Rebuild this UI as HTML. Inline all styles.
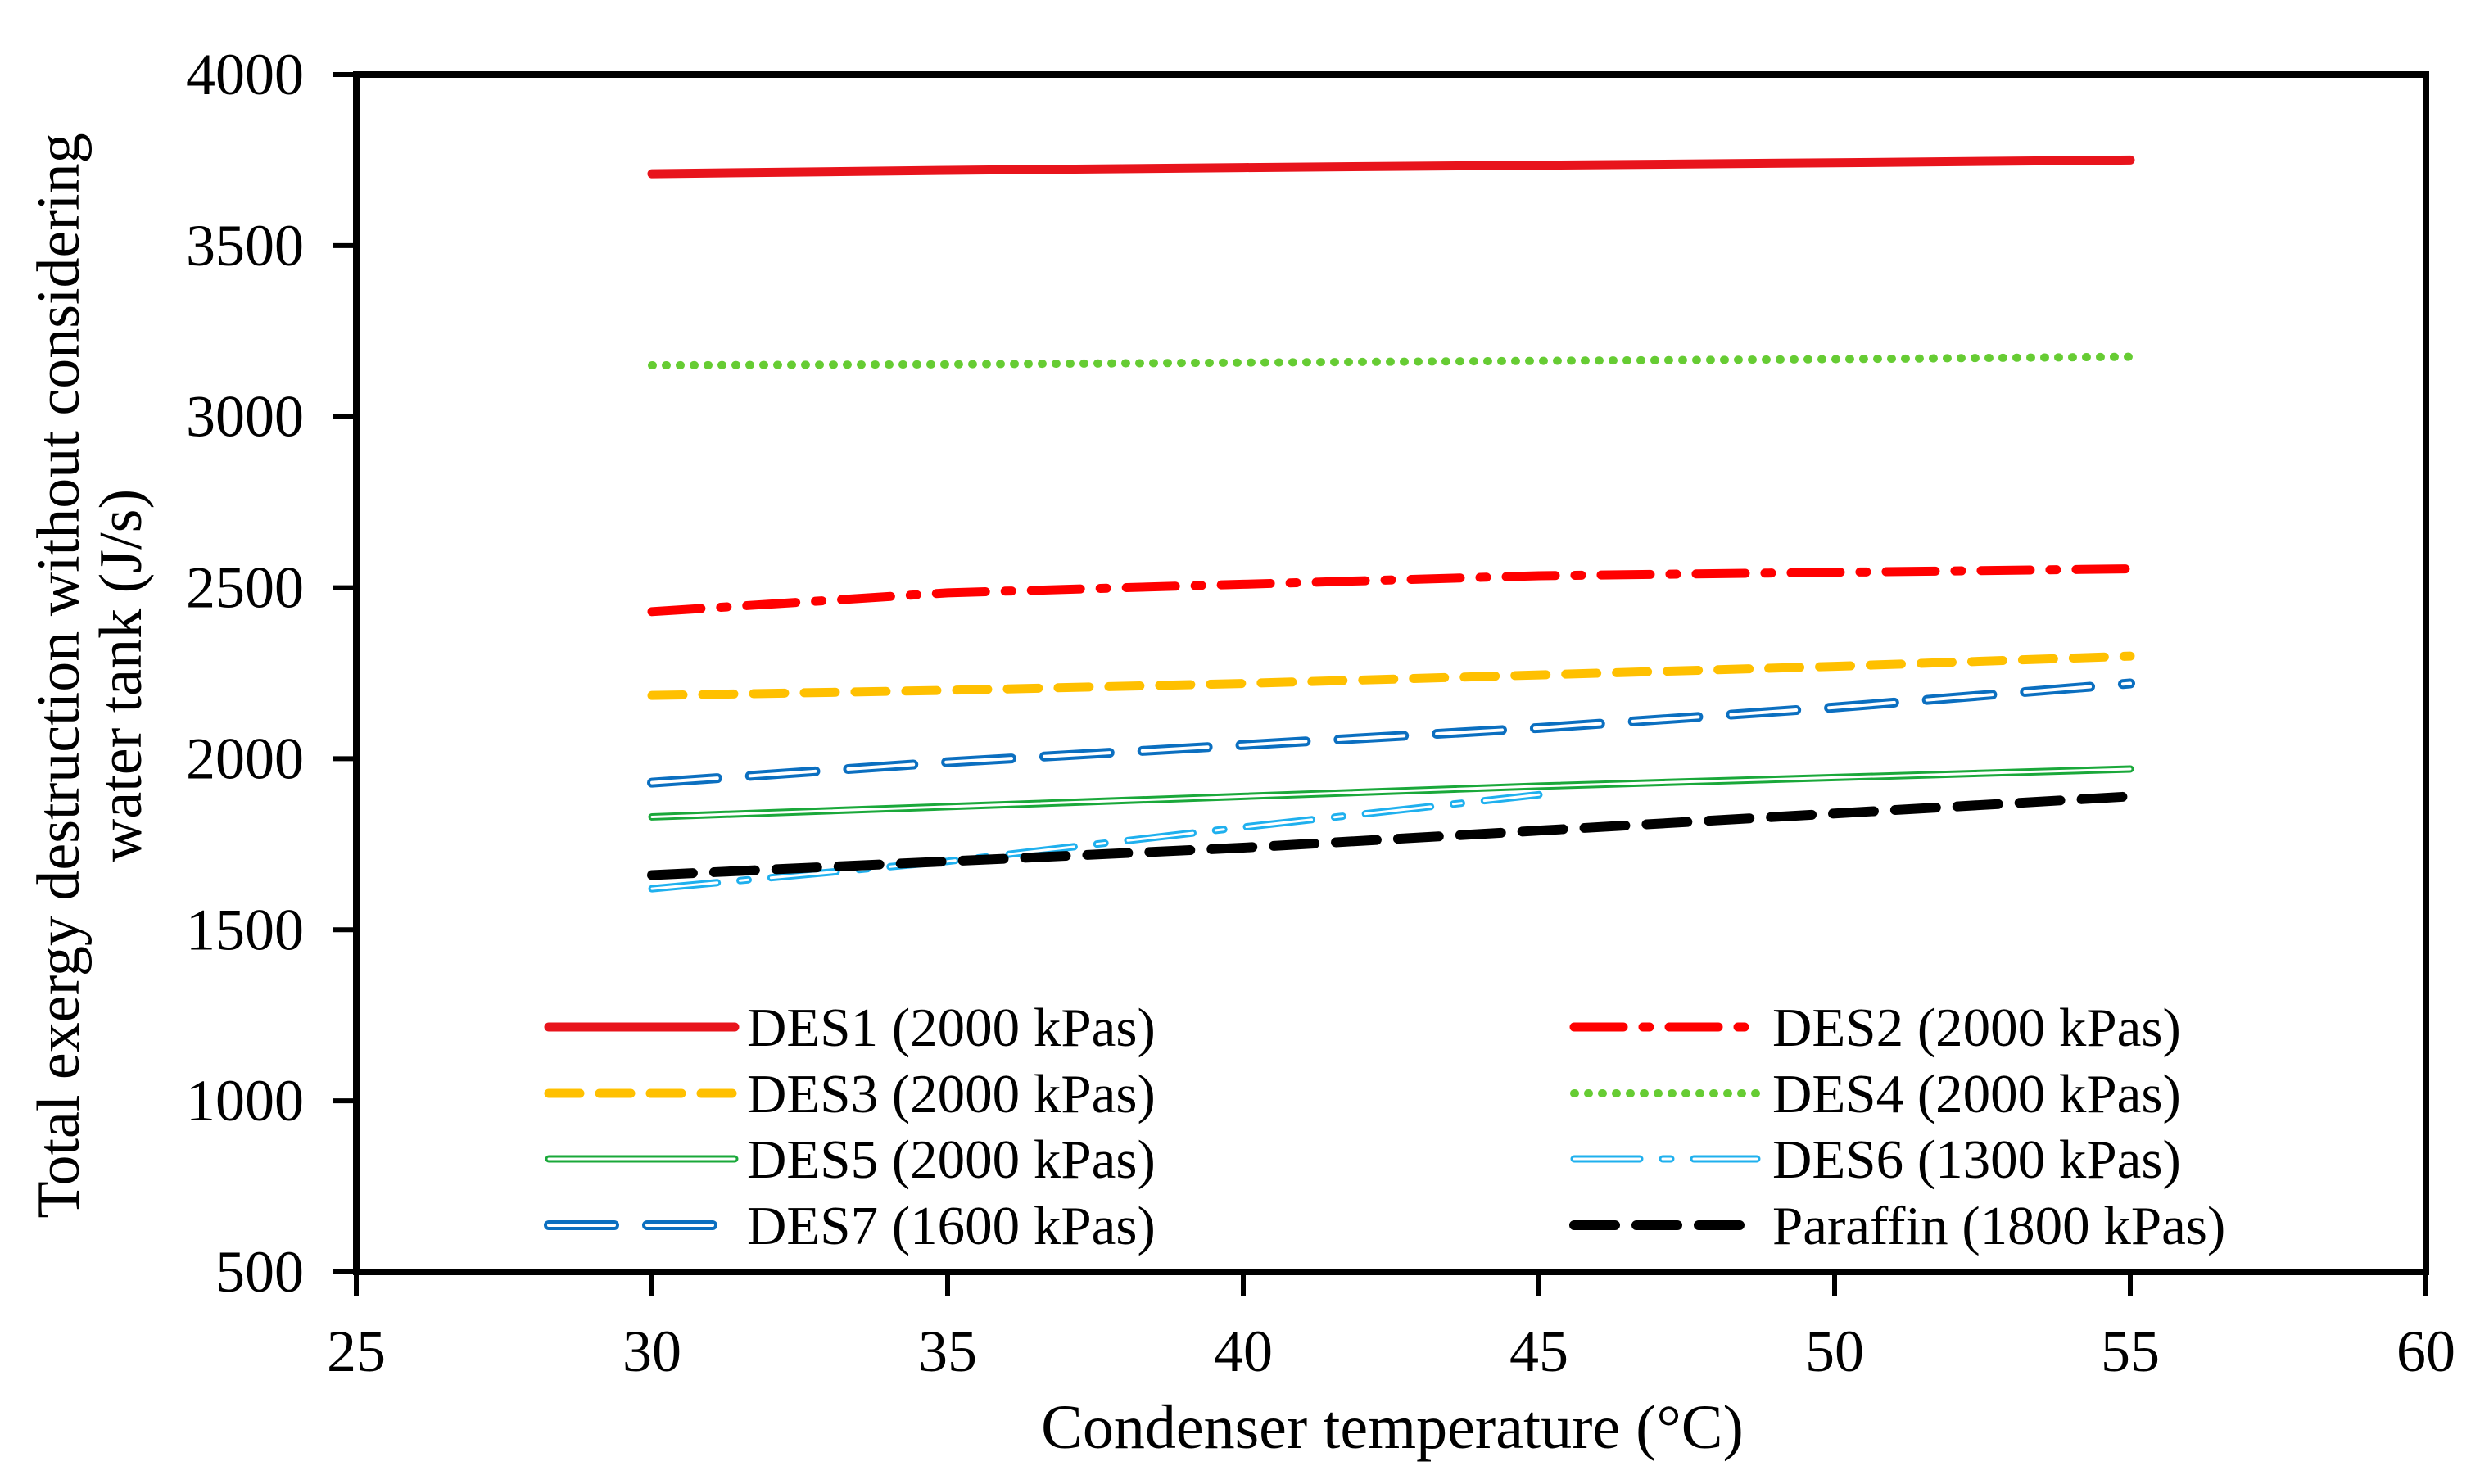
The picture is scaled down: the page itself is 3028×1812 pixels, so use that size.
<!DOCTYPE html>
<html><head><meta charset="utf-8"><style>
html,body{margin:0;padding:0;background:#fff}
svg{display:block;font-family:"Liberation Serif","Times New Roman",serif}
</style></head><body>
<svg id="chart" width="3028" height="1812" viewBox="0 0 3028 1812" xmlns="http://www.w3.org/2000/svg">
<rect width="3028" height="1812" fill="#fff"/>
<g id="series"></g>
<g id="axes"></g>
<g id="legend"></g>
<text x="1700" y="1768" font-size="76" text-anchor="middle">Condenser temperature  (°C)</text>
<g transform="translate(0,825) rotate(-90)">
<text x="0" y="96" font-size="74" text-anchor="middle">Total exergy destruction without considering</text>
<text x="0" y="172" font-size="74" text-anchor="middle">water tank  (J/s)</text>
</g>
</svg>
<script>
const xTicks=[25,30,35,40,45,50,55,60];
const yTicks=[500,1000,1500,2000,2500,3000,3500,4000];
const xs=[30,35,40,45,50,55];
const xs6=[30,35,40,45];
const des1=[3710,3720,3728,3735,3742,3750];
const des2=[2430,2485,2510,2535,2545,2555];
const des3=[2185,2200,2220,2245,2270,2300];
const des4=[3150,3153,3158,3163,3168,3175];
const des5=[1830,1860,1890,1920,1945,1970];
const des6=[1620,1700,1800,1895];
const des7=[1930,1990,2040,2090,2150,2220];
const paraffin=[1660,1700,1740,1790,1840,1890];
const labels=["DES1 (2000 kPas)","DES2 (2000 kPas)","DES3 (2000 kPas)","DES4 (2000 kPas)","DES5 (2000 kPas)","DES6 (1300 kPas)","DES7 (1600 kPas)","Paraffin (1800 kPas)"];

const L=435,R=2962,T=91,B=1553;
const X=v=>L+(v-25)/(60-25)*(R-L);
const Y=v=>B-(v-500)/(4000-500)*(B-T);
const NS="http://www.w3.org/2000/svg";
function mk(tag,attrs,parent){const e=document.createElementNS(NS,tag);for(const k in attrs)e.setAttribute(k,attrs[k]);parent.appendChild(e);return e;}

const styles=[
 {c:"#e8141c",w:11,dash:null},
 {c:"#ff0000",w:11,dash:"60 24 8 24"},
 {c:"#ffc000",w:11,dash:"38 24"},
 {c:"#66cc33",w:10,dash:"1 16",cap:"round"},
 {c:"#1aa83a",w:9,dash:null,inner:3},
 {c:"#1fb0ee",w:9,dash:"80 28 10 28",inner:3},
 {c:"#0b6fc0",w:12,dash:"80 40",inner:4},
 {c:"#000",w:12,dash:"50 26"}
];
const data=[[xs,des1],[xs,des2],[xs,des3],[xs,des4],[xs,des5],[xs6,des6],[xs,des7],[xs,paraffin]];
const names=["des1","des2","des3","des4","des5","des6","des7","paraffin"];
const sg=document.getElementById('series');
function drawLine(parent,pts,s,nm){
  const g=mk('g',{},parent);
  
  
  const a={points:pts,fill:"none",stroke:s.c,"stroke-width":s.w,"stroke-linecap":s.cap||"round","stroke-linejoin":"round"};
  if(s.dash)a["stroke-dasharray"]=s.dash;
  mk('polyline',a,g);
  if(s.inner){const b=Object.assign({},a,{stroke:"#fff","stroke-width":s.inner});mk('polyline',b,g);}
}
data.forEach((d,i)=>{
  const pts=d[0].map((x,j)=>X(x)+","+Y(d[1][j])).join(" ");
  drawLine(sg,pts,styles[i],"series-"+names[i]);
});

const ax=document.getElementById('axes');
const frame=mk('rect',{x:L,y:T,width:R-L,height:B-T,fill:"none",stroke:"#000","stroke-width":8},ax);


yTicks.forEach(v=>{
  const t=mk('line',{x1:L-28,x2:L,y1:Y(v),y2:Y(v),stroke:"#000","stroke-width":6},ax);
  
  
  const tx=mk('text',{x:L-64,y:Y(v)+24,"font-size":72,"text-anchor":"end"},ax);
  
  
  tx.textContent=v;
});
xTicks.forEach(v=>{
  const t=mk('line',{x1:X(v),x2:X(v),y1:B,y2:B+30,stroke:"#000","stroke-width":6},ax);
  
  
  const tx=mk('text',{x:X(v),y:1674,"font-size":72,"text-anchor":"middle"},ax);
  
  
  tx.textContent=v;
});

const lg=document.getElementById('legend');
const rowsY=[1254,1335,1415,1496];
labels.forEach((lab,i)=>{
  const col=i%2,row=Math.floor(i/2);
  const x1=col?1922:670,x2=col?2145:897,tx=col?2164:912,y=rowsY[row];
  const g=mk('g',{},lg);
  
  
  drawLine(g,x1+","+y+" "+x2+","+y,styles[i],"legend-swatch-"+names[i]);
  const t=mk('text',{x:tx,y:y+23,"font-size":67},g);
  
  
  t.textContent=lab;
});
</script>
</body></html>
